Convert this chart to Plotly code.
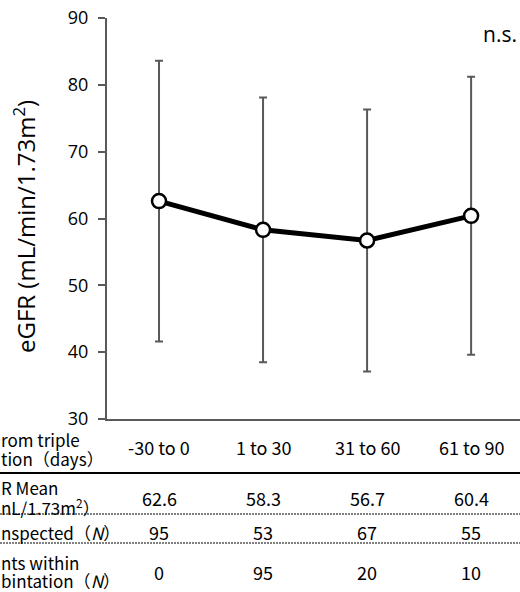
import plotly.graph_objects as go

categories = ["-30 to 0", "1 to 30", "31 to 60", "61 to 90"]
egfr_mean = [62.6, 58.3, 56.7, 60.4]
egfr_sd = [21.0, 19.8, 19.6, 20.8]
mean_labels = ["62.6", "58.3", "56.7", "60.4"]
n_inspected = [95, 53, 67, 55]
n_within = [0, 95, 20, 10]
y_ticks = [30, 40, 50, 60, 70, 80, 90]
row_label_lines = [
    "rom triple", "tion（days）",
    "R Mean", "nL/1.73m<sup>2</sup>）",
    "nspected（<i>N</i>）",
    "nts within", "bintation（<i>N</i>）",
]

W, H = 520, 592
ML, MR, MT, MB = 107, 0, 18, 173
PW = W - ML - MR
PH = H - MT - MB

def px2x(px):
    return (px - ML) / PW

def py2y(py):
    return (H - MB - py) / PH

TFONT = "Noto Sans CJK JP"
vsize = 18
lsize = 17

fig = go.Figure()
fig.add_trace(go.Scatter(
    x=list(range(len(categories))), y=egfr_mean,
    mode="lines+markers",
    line=dict(color="black", width=5),
    marker=dict(size=14, color="white", line=dict(color="black", width=2.5)),
    error_y=dict(type="data", array=egfr_sd, visible=True,
                 color="#595959", thickness=2, width=4),
    showlegend=False,
))

annotations = []
rows = [(categories, 447), (mean_labels, 498), ([str(v) for v in n_inspected], 532),
        ([str(v) for v in n_within], 572)]
for vals, py in rows:
    for i, t in enumerate(vals):
        annotations.append(dict(x=i, xref="x", y=py2y(py), yref="paper", text=t,
                                showarrow=False, font=dict(family=TFONT, size=vsize, color="black"),
                                xanchor="center", yanchor="middle"))

label_y = [439, 458, 487, 507, 532, 562, 580]
for txt, py in zip(row_label_lines, label_y):
    annotations.append(dict(x=px2x(-1), xref="paper", y=py2y(py), yref="paper", text=txt,
                            showarrow=False, font=dict(family=TFONT, size=lsize, color="black"),
                            xanchor="left", yanchor="middle", align="left"))

annotations.append(dict(x=px2x(519), xref="paper", y=py2y(34), yref="paper", text="n.s.",
                        showarrow=False, font=dict(family="Open Sans", size=21, color="black"),
                        xanchor="right", yanchor="middle"))

# y-axis title
annotations.append(dict(x=px2x(24), xref="paper", y=py2y(227), yref="paper",
                        text="eGFR (mL/min/1.73m<sup>2</sup>)", textangle=-90,
                        showarrow=False, font=dict(family="Open Sans", size=24, color="black"),
                        xanchor="center", yanchor="middle"))

shapes = [
    dict(type="line", xref="paper", yref="paper", x0=px2x(0), x1=1, y0=py2y(473), y1=py2y(473),
         line=dict(color="black", width=2)),
    dict(type="line", xref="paper", yref="paper", x0=px2x(0), x1=1, y0=py2y(514), y1=py2y(514),
         line=dict(color="black", width=1, dash="2px,1px")),
    dict(type="line", xref="paper", yref="paper", x0=px2x(0), x1=1, y0=py2y(543), y1=py2y(543),
         line=dict(color="black", width=1, dash="2px,1px")),
]

fig.update_layout(
    width=W, height=H,
    margin=dict(l=ML, r=MR, t=MT, b=MB, pad=0),
    paper_bgcolor="white", plot_bgcolor="white",
    annotations=annotations, shapes=shapes,
    xaxis=dict(range=[-0.5, 3.47], showticklabels=False, ticks="", showgrid=False,
               zeroline=False, showline=True, linecolor="#595959", linewidth=2),
    yaxis=dict(range=[30, 90], tickvals=y_ticks, ticks="outside", ticklen=7, tickwidth=1.5,
               tickcolor="#595959", showgrid=False, zeroline=False, showline=True,
               linecolor="#595959", linewidth=2, ticklabelstandoff=6,
               tickfont=dict(family="Open Sans", size=18, color="black")),
)

fig.write_html("out.html", config={"displayModeBar": False},
               post_script="document.body.style.margin='0px';")
